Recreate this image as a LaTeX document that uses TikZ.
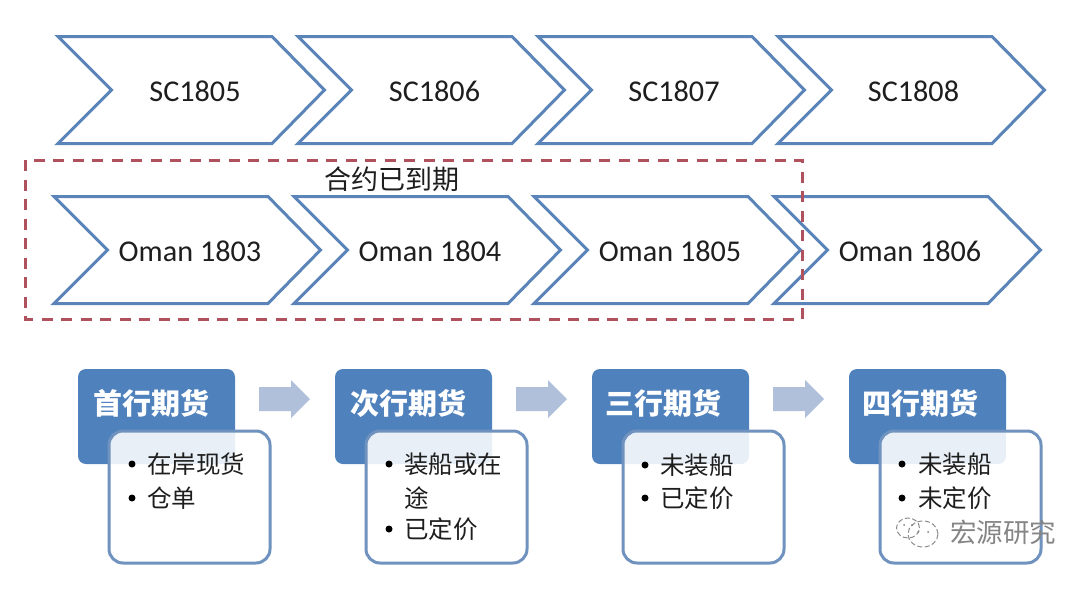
\documentclass[tikz,border=0pt]{standalone}
\usepackage{fontspec}
\setmainfont{Carlito}
\newfontfamily\cjk{Noto Sans CJK SC}
\definecolor{chevline}{HTML}{5B84B8}
\definecolor{headblue}{HTML}{4F81BD}
\definecolor{boxline}{HTML}{6F93BE}
\definecolor{dashred}{HTML}{B0525E}
\definecolor{arrowfill}{HTML}{B0C0DA}
\definecolor{inktext}{HTML}{1E1E1E}
\tikzset{
  chevron/.style={draw=chevline,line width=3pt,line join=miter},
  chevlabel/.style={font=\fontsize{30.2}{32}\selectfont,text=inktext,inner sep=0pt},
  headbox/.style={rectangle,rounded corners=8pt,fill=headblue,draw=none,minimum width=157pt,minimum height=95pt,inner sep=0pt},
  headlabel/.style={font=\cjk\bfseries\fontsize{29}{32}\selectfont,text=white,inner sep=0pt},
  itembox/.style={rectangle,rounded corners=14pt,fill=white,fill opacity=.88,draw=boxline,draw opacity=1,line width=3pt,minimum width=161pt,minimum height=132pt,inner sep=0pt},
  itemlabel/.style={font=\cjk\fontsize{24.5}{28}\selectfont,text=inktext,anchor=west,inner sep=0pt},
  bulletmark/.style={circle,fill=black,minimum size=7pt,inner sep=0pt},
  flowarrow/.style={fill=arrowfill,draw=none},
  expired/.style={draw=dashred,line width=3pt,dash pattern=on 11pt off 8.5pt},
}
\newcommand{\chevronat}[2]{%
  \draw[chevron] (#1,#2-53.5) -- (#1+214,#2-53.5) -- (#1+266.5,#2) -- (#1+214,#2+53.5) -- (#1,#2+53.5) -- (#1+53.5,#2) -- cycle;}
\newcommand{\blockarrow}[1]{%
  \fill[flowarrow] (#1,387) -- (#1+32,387) -- (#1+32,380) -- (#1+51,399) -- (#1+32,418) -- (#1+32,411) -- (#1,411) -- cycle;}
\begin{document}
\begin{tikzpicture}[x=1pt,y=-1pt]
\useasboundingbox (0,0) rectangle (1080,592);
\fill[white] (0,0) rectangle (1080,592);
% chevrons
\chevronat{58}{90}
\chevronat{298}{90}
\chevronat{538}{90}
\chevronat{778}{90}
\chevronat{54}{250}
\chevronat{294}{250}
\chevronat{534}{250}
\chevronat{774}{250}
\node[chevlabel] (sc5) at (195,91) {SC1805};
\node[chevlabel] (sc6) at (434.5,91) {SC1806};
\node[chevlabel] (sc7) at (674,91) {SC1807};
\node[chevlabel] (sc8) at (913.5,91) {SC1808};
\node[chevlabel] (om3) at (190,251) {Oman 1803};
\node[chevlabel] (om4) at (430,251) {Oman 1804};
\node[chevlabel] (om5) at (670,251) {Oman 1805};
\node[chevlabel] (om6) at (910,251) {Oman 1806};
% expired range
\draw[expired] (25,160) rectangle (802,319);
\node[font=\cjk\fontsize{27}{30}\selectfont,text=inktext,inner sep=0pt] (exp) at (391.5,179) {合约已到期};
% headers
\node[headbox] (h1) at (156.5,416.5) {};
\node[headbox] (h2) at (413.5,416.5) {};
\node[headbox] (h3) at (670.5,416.5) {};
\node[headbox] (h4) at (927.5,416.5) {};
\node[headlabel] (t1) at (151,403) {首行期货};
\node[headlabel] (t2) at (408,403) {次行期货};
\node[headlabel] (t3) at (663.5,403) {三行期货};
\node[headlabel] (t4) at (920.5,403) {四行期货};
% arrows
\blockarrow{259}
\blockarrow{516}
\blockarrow{773}
% detail boxes
\node[itembox] (b1) at (189.5,497) {};
\node[itembox] (b2) at (446.5,497) {};
\node[itembox] (b3) at (703.5,497) {};
\node[itembox] (b4) at (960.5,497) {};
% items
\node[bulletmark] (d11) at (132,464) {};
\node[itemlabel] (i11) at (147,464) {在岸现货};
\node[bulletmark] (d12) at (132,498) {};
\node[itemlabel] (i12) at (147,498) {仓单};
\node[bulletmark] (d21) at (389,464) {};
\node[itemlabel] (i21) at (404,464) {装船或在};
\node[itemlabel] (i22) at (404,498) {途};
\node[bulletmark] (d23) at (389,529) {};
\node[itemlabel] (i23) at (404,529) {已定价};
\node[bulletmark] (d31) at (645,465) {};
\node[itemlabel] (i31) at (660,465) {未装船};
\node[bulletmark] (d32) at (645,498) {};
\node[itemlabel] (i32) at (660,498) {已定价};
\node[bulletmark] (d41) at (902,464) {};
\node[itemlabel] (i41) at (918,464) {未装船};
\node[bulletmark] (d42) at (902,498) {};
\node[itemlabel] (i42) at (918,498) {未定价};
% watermark
\begin{scope}[draw=black!45,line width=1pt,dash pattern=on 5pt off 2.5pt]
\draw (908,528) ellipse (11.5pt and 10pt);
\draw (923,534) ellipse (15pt and 13pt);
\end{scope}
\fill[black!50] (918,532) circle (1pt) (928,532) circle (1pt) (904,525) circle (1pt) (912,525) circle (1pt);
\node[font=\cjk\fontsize{26.5}{30}\selectfont,text=black!48,inner sep=0pt] (wm) at (1003,532) {宏源研究};
\end{tikzpicture}
\end{document}
